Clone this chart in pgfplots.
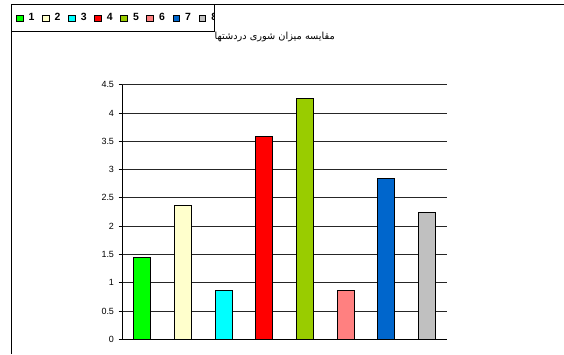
\documentclass[border=0pt]{standalone}
\usepackage{pgfplots}
\pgfplotsset{compat=1.18}
\usepackage{fontspec}
\setmainfont{Liberation Sans}
\newfontfamily\arabicfont[Script=Arabic]{DejaVu Sans}
\TeXXeTstate=1
\definecolor{c1}{HTML}{00FF00}
\definecolor{c2}{HTML}{FFFFCC}
\definecolor{c3}{HTML}{00FFFF}
\definecolor{c4}{HTML}{FF0000}
\definecolor{c5}{HTML}{99CC00}
\definecolor{c6}{HTML}{FF8080}
\definecolor{c7}{HTML}{0066CC}
\definecolor{c8}{HTML}{C0C0C0}
\pgfplotsset{sq/.style={legend image code/.code={\draw[##1, draw=black, line width=0.6bp] (0bp,-3.2bp) rectangle (6.6bp,3.2bp);}}}
\begin{document}
\begin{tikzpicture}[x=1bp,y=1bp]
\useasboundingbox (0,0) rectangle (564,354);
\fill[white] (0,0) rectangle (564,354);
\begin{axis}[
  at={(122bp,14.7bp)}, anchor=south west,
  scale only axis, width=325bp, height=254.6bp,
  xmin=-0.5, xmax=7.5, ymin=0, ymax=4.5,
  ybar, bar width=17bp, bar shift=0pt,
  axis x line*=bottom, axis y line*=left,
  axis line style={-, black, line width=0.9bp},
  xtick=\empty, ytick={0,0.5,1,1.5,2,2.5,3,3.5,4,4.5},
  ymajorgrids, grid style={black!85, line width=0.8bp},
  tick style={black, line width=0.8bp}, tick align=outside, major tick length=3.5bp,
  yticklabel style={font=\fontsize{9}{10}\selectfont, xshift=-1bp},
  /pgf/number format/assume math mode=true,
  yticklabel={\pgfmathprintnumber[fixed,precision=1]{\tick}},
  legend columns=8,
  legend style={draw=none, fill=none, at={(axis description cs:-0.327,1.262)}, anchor=west,
    font=\bfseries\fontsize{10.5}{12}\selectfont, inner sep=0pt,
    /tikz/every odd column/.append style={column sep=3.5bp},
    /tikz/every even column/.append style={column sep=5.6bp}},
  legend cell align=left,
]
\addplot[fill=c1, draw=black, line width=0.7bp, sq] coordinates {(0,1.45)};
\addlegendentry{1}
\addplot[fill=c2, draw=black, line width=0.7bp, sq] coordinates {(1,2.37)};
\addlegendentry{2}
\addplot[fill=c3, draw=black, line width=0.7bp, sq] coordinates {(2,0.86)};
\addlegendentry{3}
\addplot[fill=c4, draw=black, line width=0.7bp, sq] coordinates {(3,3.59)};
\addlegendentry{4}
\addplot[fill=c5, draw=black, line width=0.7bp, sq] coordinates {(4,4.25)};
\addlegendentry{5}
\addplot[fill=c6, draw=black, line width=0.7bp, sq] coordinates {(5,0.86)};
\addlegendentry{6}
\addplot[fill=c7, draw=black, line width=0.7bp, sq] coordinates {(6,2.84)};
\addlegendentry{7}
\addplot[fill=c8, draw=black, line width=0.7bp, sq] coordinates {(7,2.24)};
\addlegendentry{8}
\end{axis}
\node[anchor=east, font=\arabicfont\fontsize{9.8}{11}\selectfont, inner sep=0pt] at (335,317) {\beginR مقایسه میزان شوری دردشتها\endR};
\fill[white] (214.5,323.5) rectangle (240,348.5);
\draw[line width=1bp] (11,0) -- (11,349) -- (564,349);
\draw[line width=1bp] (11,323) -- (214,323) -- (214,349);
\end{tikzpicture}
\end{document}
